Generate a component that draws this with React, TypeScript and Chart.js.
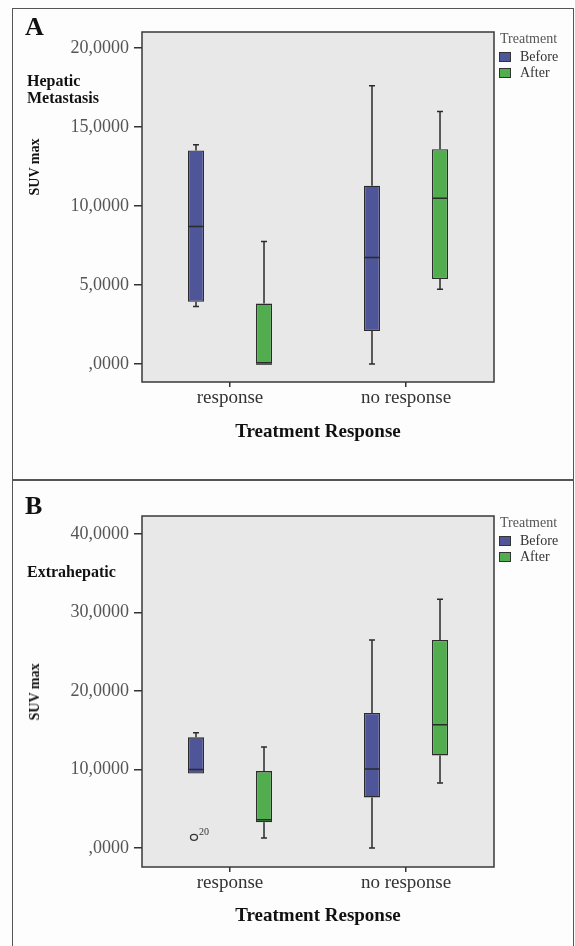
import React, { useEffect, useRef } from 'react';
import { Chart, registerables } from 'chart.js';

Chart.register(...registerables);

// ---------- data ----------
const categories = ['response', 'no response'];
const seriesNames = ['Before', 'After'];
const seriesColors = ['#4e5598', '#52ad4f'];

// Panel A – Hepatic Metastasis (SUV max)
const hepBeforeMin = [3.63, 0];
const hepBeforeQ1 = [3.94, 2.09];
const hepBeforeMedian = [8.69, 6.73];
const hepBeforeQ3 = [13.5, 11.28];
const hepBeforeMax = [13.86, 17.6];

const hepAfterMin = [0, 4.73];
const hepAfterQ1 = [0, 5.38];
const hepAfterMedian = [0, 10.49];
const hepAfterQ3 = [3.82, 13.59];
const hepAfterMax = [7.74, 15.97];

const hepTicks = [0, 5, 10, 15, 20];
const hepTickLabels = [',0000', '5,0000', '10,0000', '15,0000', '20,0000'];

// Panel B – Extrahepatic (SUV max)
const extBeforeMin = [9.5, 0];
const extBeforeQ1 = [9.5, 6.45];
const extBeforeMedian = [10.0, 10.06];
const extBeforeQ3 = [14.1, 17.2];
const extBeforeMax = [14.7, 26.5];

const extAfterMin = [1.27, 8.28];
const extAfterQ1 = [3.27, 11.8];
const extAfterMedian = [3.6, 15.7];
const extAfterQ3 = [9.8, 26.5];
const extAfterMax = [12.87, 31.7];

const extTicks = [0, 10, 20, 30, 40];
const extTickLabels = [',0000', '10,0000', '20,0000', '30,0000', '40,0000'];

// outliers: series index, category index, value, case label
const extOutlierSeries = [0];
const extOutlierCategory = [0];
const extOutlierValues = [1.36];
const extOutlierLabels = ['20'];

const SERIF = '"Liberation Serif", "Times New Roman", serif';

type Stats = { min: number[]; q1: number[]; med: number[]; q3: number[]; max: number[] };

const boxPlugin = {
  id: 'boxExtras',
  beforeDatasetsDraw(chart: any) {
    const { ctx, chartArea: a } = chart;
    ctx.save();
    ctx.fillStyle = '#e8e8e8';
    ctx.fillRect(a.left, a.top, a.right - a.left, a.bottom - a.top);
    ctx.restore();
  },
  afterDatasetsDraw(chart: any, _args: any, opts: any) {
    const { ctx } = chart;
    const ys = chart.scales.y;
    const stats: Stats[] = opts.stats || [];
    ctx.save();
    ctx.strokeStyle = '#2b2b2b';
    ctx.lineWidth = 1.5;
    stats.forEach((s, di) => {
      const meta = chart.getDatasetMeta(di);
      meta.data.forEach((el: any, j: number) => {
        const x = el.x;
        const half = el.width / 2;
        const yMin = ys.getPixelForValue(s.min[j]);
        const yQ1 = ys.getPixelForValue(s.q1[j]);
        const yMed = ys.getPixelForValue(s.med[j]);
        const yQ3 = ys.getPixelForValue(s.q3[j]);
        const yMax = ys.getPixelForValue(s.max[j]);
        ctx.beginPath();
        if (s.max[j] > s.q3[j]) {
          ctx.moveTo(x, yQ3);
          ctx.lineTo(x, yMax);
          ctx.moveTo(x - 3, yMax);
          ctx.lineTo(x + 3, yMax);
        }
        if (s.min[j] < s.q1[j]) {
          ctx.moveTo(x, yQ1);
          ctx.lineTo(x, yMin);
          ctx.moveTo(x - 3, yMin);
          ctx.lineTo(x + 3, yMin);
        }
        ctx.moveTo(x - half, yMed);
        ctx.lineTo(x + half, yMed);
        ctx.stroke();
      });
    });
    const out = opts.outliers;
    if (out) {
      out.values.forEach((v: number, k: number) => {
        const meta = chart.getDatasetMeta(out.series[k]);
        const el = meta.data[out.category[k]];
        const x = el.x;
        const y = ys.getPixelForValue(v);
        ctx.beginPath();
        ctx.lineWidth = 1.3;
        ctx.strokeStyle = '#333';
        ctx.ellipse(x - 2, y, 3.5, 3, 0, 0, Math.PI * 2);
        ctx.stroke();
        ctx.fillStyle = '#333';
        ctx.font = `10px ${SERIF}`;
        ctx.textBaseline = 'middle';
        ctx.fillText(out.labels[k], x + 3, y - 5);
      });
    }
    ctx.restore();
  },
  afterDraw(chart: any) {
    const { ctx, chartArea: a } = chart;
    ctx.save();
    ctx.strokeStyle = '#383838';
    ctx.lineWidth = 1.5;
    ctx.strokeRect(a.left, a.top, a.right - a.left, a.bottom - a.top);
    ctx.restore();
  },
};

type PanelCfg = {
  stats: Stats[];
  ticks: number[];
  tickLabels: string[];
  min: number;
  max: number;
  padTop: number;
  xHeight: number;
  titleBottom: number;
  outliers?: any;
};

function makeConfig(p: PanelCfg): any {
  return {
    type: 'bar',
    data: {
      labels: categories,
      datasets: p.stats.map((s, i) => ({
        label: seriesNames[i],
        data: s.q1.map((v, j) => [v, s.q3[j]]),
        backgroundColor: seriesColors[i],
        borderColor: '#2b2b2b',
        borderWidth: 1.3,
        borderSkipped: false,
        categoryPercentage: 0.773,
        barPercentage: 0.235,
      })),
    },
    options: {
      animation: false,
      responsive: false,
      maintainAspectRatio: false,
      layout: { padding: { top: p.padTop, right: 81, left: 0, bottom: 0 } },
      plugins: {
        legend: { display: false },
        tooltip: { enabled: false },
        boxExtras: { stats: p.stats, outliers: p.outliers },
      },
      scales: {
        x: {
          type: 'category',
          offset: true,
          grid: {
            offset: false,
            drawOnChartArea: false,
            drawTicks: true,
            tickLength: 5,
            color: '#333',
            lineWidth: 1.5,
          },
          border: { display: false },
          ticks: {
            font: { family: SERIF, size: 19 },
            color: '#333',
            padding: 0,
            maxRotation: 0,
            autoSkip: false,
          },
          title: {
            display: true,
            text: 'Treatment Response',
            font: { family: SERIF, size: 19, weight: 'bold' },
            color: '#111',
            padding: { top: 0, bottom: p.titleBottom },
          },
          afterFit: (s: any) => {
            s.height = p.xHeight;
          },
        },
        y: {
          type: 'linear',
          min: p.min,
          max: p.max,
          afterBuildTicks: (s: any) => {
            s.ticks = p.ticks.map((v) => ({ value: v }));
          },
          ticks: {
            font: { family: SERIF, size: 18 },
            color: '#555',
            padding: 5,
            callback: (v: any) => {
              const i = p.ticks.indexOf(Number(v));
              return i >= 0 ? p.tickLabels[i] : '';
            },
          },
          grid: {
            drawOnChartArea: false,
            drawTicks: true,
            tickLength: 8,
            color: '#333',
            lineWidth: 1.5,
          },
          border: { display: false },
          afterFit: (s: any) => {
            s.width = 142;
          },
        },
      },
    },
    plugins: [boxPlugin],
  };
}

function ChartCanvas({ cfg, width, height }: { cfg: PanelCfg; width: number; height: number }) {
  const ref = useRef<HTMLCanvasElement | null>(null);
  useEffect(() => {
    if (!ref.current) return;
    const chart = new Chart(ref.current, makeConfig(cfg));
    return () => chart.destroy();
  }, []);
  return (
    <canvas
      ref={ref}
      width={width}
      height={height}
      style={{ position: 'absolute', left: 0, top: 0, width, height }}
    />
  );
}

function Legend({ top }: { top: number }) {
  return (
    <>
      <div style={{ position: 'absolute', left: 500, top: top - 8, fontSize: 14, lineHeight: '16px', color: '#555', fontFamily: SERIF }}>
        Treatment
      </div>
      {seriesNames.map((n, i) => (
        <React.Fragment key={n}>
          <div
            style={{
              position: 'absolute',
              left: 499,
              top: top + 18 + i * 16 - 5,
              width: 12,
              height: 10,
              boxSizing: 'border-box',
              border: '1px solid #333',
              background: seriesColors[i],
            }}
          />
          <div
            style={{
              position: 'absolute',
              left: 520,
              top: top + 18 + i * 16 - 8,
              fontSize: 14,
              lineHeight: '16px',
              color: '#333',
              fontFamily: SERIF,
            }}
          >
            {n}
          </div>
        </React.Fragment>
      ))}
    </>
  );
}

const hepCfg: PanelCfg = {
  stats: [
    { min: hepBeforeMin, q1: hepBeforeQ1, med: hepBeforeMedian, q3: hepBeforeQ3, max: hepBeforeMax },
    { min: hepAfterMin, q1: hepAfterQ1, med: hepAfterMedian, q3: hepAfterQ3, max: hepAfterMax },
  ],
  ticks: hepTicks,
  tickLabels: hepTickLabels,
  min: -1.14,
  max: 21.0,
  padTop: 32,
  xHeight: 98,
  titleBottom: 37,
};

const extCfg: PanelCfg = {
  stats: [
    { min: extBeforeMin, q1: extBeforeQ1, med: extBeforeMedian, q3: extBeforeQ3, max: extBeforeMax },
    { min: extAfterMin, q1: extAfterQ1, med: extAfterMedian, q3: extAfterQ3, max: extAfterMax },
  ],
  ticks: extTicks,
  tickLabels: extTickLabels,
  min: -2.42,
  max: 42.3,
  padTop: 36,
  xHeight: 79,
  titleBottom: 19,
  outliers: {
    series: extOutlierSeries,
    category: extOutlierCategory,
    values: extOutlierValues,
    labels: extOutlierLabels,
  },
};

const boldText = (extra: React.CSSProperties): React.CSSProperties => ({
  position: 'absolute',
  fontFamily: SERIF,
  fontWeight: 'bold',
  color: '#111',
  whiteSpace: 'nowrap',
  ...extra,
});

export default function App() {
  return (
    <div
      style={{
        position: 'absolute',
        left: 0,
        top: 0,
        width: 575,
        height: 946,
        overflow: 'hidden',
        background: '#fdfdfd',
        fontFamily: SERIF,
      }}
    >
      {/* Panel A */}
      <div style={{ position: 'absolute', left: 0, top: 0, width: 575, height: 480 }}>
        <div style={{ position: 'absolute', left: 12, top: 8, width: 562, height: 472, boxSizing: 'border-box', border: '1.5px solid #555' }} />
        <ChartCanvas cfg={hepCfg} width={575} height={480} />
        <div style={boldText({ left: 25, top: 14, fontSize: 26, lineHeight: '26px' })}>A</div>
        <div style={boldText({ left: 27, top: 72, fontSize: 16, lineHeight: '17px' })}>
          Hepatic
          <br />
          Metastasis
        </div>
        <div
          style={boldText({
            left: 35,
            top: 167,
            fontSize: 14,
            lineHeight: '14px',
            transform: 'translate(-50%, -50%) rotate(-90deg)',
          })}
        >
          SUV max
        </div>
        <Legend top={39} />
      </div>
      {/* Panel B */}
      <div style={{ position: 'absolute', left: 0, top: 480, width: 575, height: 466 }}>
        <div style={{ position: 'absolute', left: 12, top: 0, width: 562, height: 480, boxSizing: 'border-box', border: '1.5px solid #555' }} />
        <ChartCanvas cfg={extCfg} width={575} height={466} />
        <div style={boldText({ left: 25, top: 13, fontSize: 26, lineHeight: '26px' })}>B</div>
        <div style={boldText({ left: 27, top: 84, fontSize: 16, lineHeight: '16px' })}>Extrahepatic</div>
        <div
          style={boldText({
            left: 35,
            top: 212,
            fontSize: 14,
            lineHeight: '14px',
            transform: 'translate(-50%, -50%) rotate(-90deg)',
          })}
        >
          SUV max
        </div>
        <Legend top={43} />
      </div>
    </div>
  );
}
